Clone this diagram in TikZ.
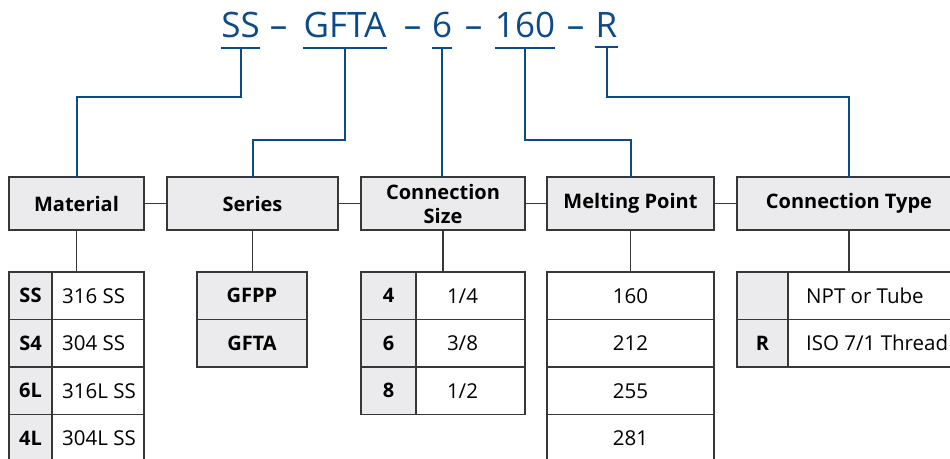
\documentclass[tikz,border=0pt]{standalone}
\usepackage{fontspec}
\setmainfont{Open Sans}
\usepackage{tikz}
\usetikzlibrary{positioning}

\definecolor{codeblue}{RGB}{12,74,138}
\definecolor{boxgray}{RGB}{235,235,237}
\definecolor{linegray}{RGB}{55,55,55}

\tikzset{
  code/.style={text=codeblue, inner sep=0pt, anchor=base, font=\fontsize{35}{36}\selectfont},
  codewire/.style={draw=codeblue, line width=2pt},
  wire/.style={draw=linegray, line width=1.4pt},
  head/.style={draw=linegray, fill=boxgray, line width=1.4pt, outer sep=0pt, inner sep=0pt,
    minimum height=53pt, align=center, font=\bfseries\fontsize{20}{24}\selectfont},
  cell/.style={draw=linegray, line width=1.4pt, outer sep=0pt, inner sep=0pt, anchor=north west,
    minimum height=47.5pt, font=\fontsize{20.5}{24}\selectfont},
  keycell/.style={cell, fill=boxgray, font=\bfseries\fontsize{20}{24}\selectfont},
  celltext/.style={inner sep=0pt, font=\fontsize{20.5}{24}\selectfont},
}

\begin{document}
\begin{tikzpicture}[x=1pt, y=-1pt]
\useasboundingbox (0,0) rectangle (950,458);
\clip (0,0) rectangle (950,458);

% ordering code
\node[code] (cSS) at (240.5,37) {SS};
\node[code] (d1) at (278.5,37) {–};
\node[code] (cGFTA) at (345,37) {GFTA};
\node[code] (d2) at (412.5,37) {–};
\node[code] (c6) at (442,37) {6};
\node[code] (d3) at (473.5,37) {–};
\node[code] (c160) at (525,37) {160};
\node[code] (d4) at (575.5,37) {–};
\node[code] (cR) at (606.5,37) {R};
\foreach \n in {cSS,cGFTA,c6,c160,cR}
  \draw[codewire] ([yshift=-10pt]\n.south west) -- ([yshift=-10pt]\n.south east)
    coordinate[midway] (u\n);

% headings
\node[head, minimum width=135pt] (mat) at (76.5,203.5) {Material};
\node[head, minimum width=171pt, right=23pt of mat] (ser) {Series};
\node[head, minimum width=164pt, right=23pt of ser] (csz) {Connection\\Size};
\node[head, minimum width=167pt, right=22pt of csz] (mp) {Melting Point};
\node[head, minimum width=224pt, right=23pt of mp] (ct) {Connection Type};
\draw[wire] (mat) -- (ser);
\draw[wire] (ser) -- (csz);
\draw[wire] (csz) -- (mp);
\draw[wire] (mp) -- (ct);

% code to heading
\draw[codewire] (ucSS) |- ([yshift=80pt]mat.north) -- (mat.north);
\draw[codewire] (ucGFTA) |- ([yshift=37pt]ser.north) -- (ser.north);
\draw[codewire] (uc6) -- (uc6 |- csz.north);
\draw[codewire] (uc160) |- ([yshift=37pt]mp.north) -- (mp.north);
\draw[codewire] (ucR) |- ([yshift=80pt]ct.north) -- (ct.north);

% material
\foreach \k/\v [count=\i] in {SS/316 SS,S4/304 SS,6L/316L SS,4L/304L SS}{
  \node[keycell, minimum width=43pt] (matk\i) at (9,{272+47.5*(\i-1)}) {\k};
  \node[cell, minimum width=92pt] (matv\i) at (matk\i.north east) {};
  \node[celltext, anchor=west] (matt\i) at ([xshift=10pt]matv\i.west) {\v};
}
% series
\foreach \k [count=\i] in {GFPP,GFTA}
  \node[keycell, minimum width=110pt] (serk\i) at (197,{272+47.5*(\i-1)}) {\k};
% connection size
\foreach \k/\v [count=\i] in {4/{1/4},6/{3/8},8/{1/2}}{
  \node[keycell, minimum width=55pt] (cszk\i) at (361,{272+47.5*(\i-1)}) {\k};
  \node[cell, minimum width=109pt] (cszv\i) at (cszk\i.north east) {};
  \node[celltext] (cszt\i) at ([xshift=-8pt]cszv\i.center) {\v};
}
% melting point
\foreach \v [count=\i] in {160,212,255,281}
  \node[cell, minimum width=167pt] (mpv\i) at (547,{272+47.5*(\i-1)}) {\v};
% connection type
\foreach \k/\v [count=\i] in {{}/NPT or Tube,R/{ISO 7/1 Thread}}{
  \node[keycell, minimum width=51pt] (ctk\i) at (737,{272+47.5*(\i-1)}) {\k};
  \node[cell, minimum width=190pt] (ctv\i) at (ctk\i.north east) {};
  \node[celltext, anchor=west] (ctt\i) at ([xshift=18pt]ctv\i.west) {\v};
}

% heading to table
\draw[wire] (mat.south) -- (mat.south |- matk1.north);
\draw[wire] (ser.south) -- (ser.south |- serk1.north);
\draw[wire] (csz.south) -- (csz.south |- cszk1.north);
\draw[wire] (mp.south) -- (mpv1.north);
\draw[wire] (ct.south) -- (ct.south |- ctk1.north);
\end{tikzpicture}
\end{document}
